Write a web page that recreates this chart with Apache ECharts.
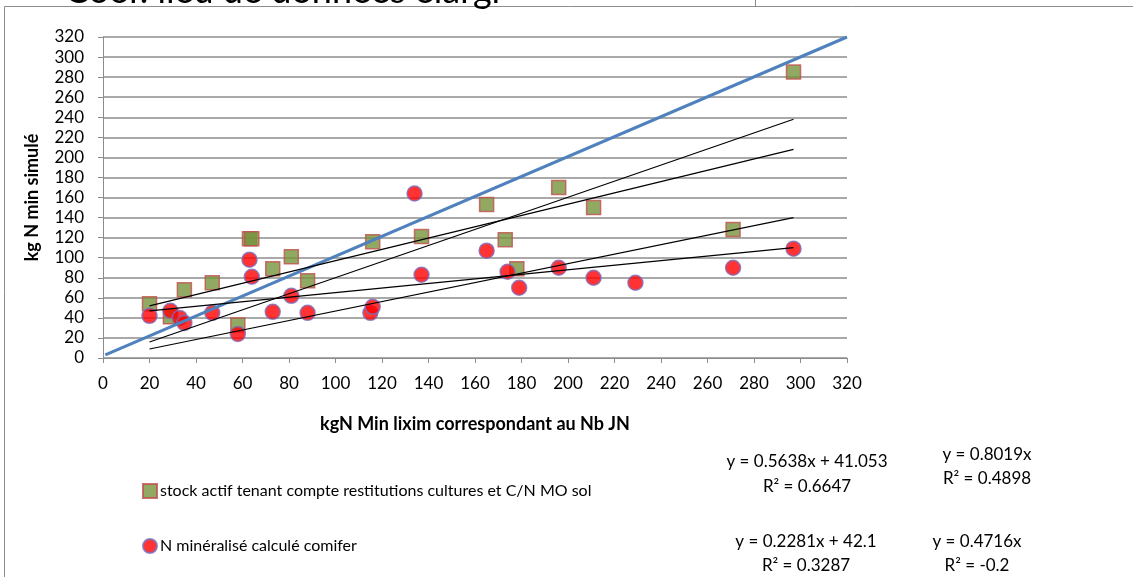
<!DOCTYPE html>
<html>
<head>
    <meta charset="UTF-8">
    <title>kg N min simulé</title>
</head>
<body style="margin:0; background:#fff;">
<div id="main" style="width:1133px; height:577px;"></div>

<script type="text/javascript" src="https://cdn.jsdelivr.net/npm/echarts@6/dist/echarts.min.js"></script>
<script type="text/javascript">

    // points [x, y]
    var stockPoints = [
        [20,54],[29,41],[35,68],[47,75],[58,33],[63,119],[64,119],[73,89],[81,101],[88,77],
        [116,116],[137,121],[165,153],[173,118],[178,89],[196,170],[211,150],[271,128],[297,285]
    ];
    var comiferPoints = [
        [20,42],[29,47],[33,40],[35,35],[47,45],[58,24],[63,98],[64,81],[73,46],[81,62],[88,45],
        [115,45],[116,51],[134,164],[137,83],[165,107],[174,86],[179,70],[196,90],[211,80],
        [229,75],[271,90],[297,109]
    ];

    // courbes de tendance (extrémités lues)
    var trendStockLin  = [[20,52],[297,208]];
    var trendStockOrig = [[20,16],[297,238]];
    var trendComLin    = [[20,47],[297,110]];
    var trendComOrig   = [[20,9],[297,140]];
    var refLine        = [[1,3],[320,320]];

    var seriesNames = ['stock actif tenant compte restitutions cultures et C/N MO sol', 'N minéralisé calculé comifer'];
    var equations = [
        ['y = 0.5638x + 41.053', 'R² = 0.6647'],
        ['y = 0.8019x', 'R² = 0.4898'],
        ['y = 0.2281x + 42.1', 'R² = 0.3287'],
        ['y = 0.4716x', 'R² = -0.2']
    ];

    var FONT = 'Lato';
    var myChart = echarts.init(document.getElementById('main'));

    function trend(data, color, width) {
        return {
            type: 'line', data: data, symbol: 'none', silent: true, z: 5,
            lineStyle: { color: color, width: width }
        };
    }

    // équations : [x centre, y ligne 1, y ligne 2]
    var eqPos = [[807, 462, 487], [987, 455, 479], [806, 542, 566], [977, 542, 566]];
    var graphics = [
        { type: 'text', left: 65, top: -27, style: { text: 'Coef. lieu de données élargi', font: '36px ' + FONT, fill: '#000' } },
        { type: 'rect', shape: { x: 4.5, y: 6.5, width: 1140, height: 600 }, style: { fill: 'none', stroke: '#8c8c8c', lineWidth: 1 }, z: -1 },
        { type: 'line', shape: { x1: 755.5, y1: 0, x2: 755.5, y2: 7 }, style: { stroke: '#8c8c8c', lineWidth: 1 } }
    ];
    equations.forEach(function (eq, i) {
        for (var k = 0; k < 2; k++) {
            graphics.push({
                type: 'text', x: eqPos[i][0], y: eqPos[i][k + 1],
                style: { text: eq[k], font: '17px ' + FONT, fill: '#000', align: 'center', verticalAlign: 'middle' }
            });
        }
    });

    var axisLine = { lineStyle: { color: '#8c8c8c', width: 1 } };

    var option = {
        animation: false,
        textStyle: { fontFamily: FONT },
        grid: { left: 103, right: 286, top: 37, bottom: 219 },
        legend: {
            data: [
                { name: seriesNames[0], icon: 'rect' },
                { name: seriesNames[1], icon: 'circle' }
            ],
            orient: 'vertical', left: 142, top: 483, itemGap: 39, padding: 0,
            itemWidth: 14, itemHeight: 14,
            textStyle: { fontSize: 16, color: '#000', fontFamily: FONT, padding: [0, 0, 0, -2] }
        },
        xAxis: {
            type: 'value', min: 0, max: 320, interval: 20,
            name: 'kgN Min lixim correspondant au Nb JN',
            nameLocation: 'middle', nameGap: 57,
            nameTextStyle: { fontWeight: 'bold', fontSize: 18, color: '#000' },
            axisLine: axisLine,
            axisTick: { show: true, length: 5, lineStyle: { color: '#8c8c8c' } },
            axisLabel: { fontSize: 17, color: '#000', margin: 17 },
            splitLine: { show: false }
        },
        yAxis: {
            type: 'value', min: 0, max: 320, interval: 20,
            name: 'kg N min simulé',
            nameLocation: 'middle', nameGap: 62,
            nameTextStyle: { fontWeight: 'bold', fontSize: 18, color: '#000' },
            axisLine: { show: true, lineStyle: { color: '#8c8c8c', width: 1 } },
            axisTick: { show: true, length: 5, lineStyle: { color: '#8c8c8c' } },
            axisLabel: { fontSize: 17, color: '#000', margin: 19 },
            splitLine: { lineStyle: { color: '#8c8c8c', width: 1.5 } }
        },
        graphic: graphics,
        series: [
            {
                name: seriesNames[0], type: 'scatter', data: stockPoints,
                symbol: 'rect', symbolSize: 14, z: 2,
                itemStyle: { color: '#77933C', borderColor: '#C0504D', borderWidth: 1.5 }
            },
            {
                name: seriesNames[1], type: 'scatter', data: comiferPoints,
                symbol: 'circle', symbolSize: 15, z: 3,
                itemStyle: { color: '#FF0000', borderColor: '#7B6EBE', borderWidth: 1.5 }
            },
            trend(refLine, '#4F81BD', 3),
            trend(trendStockLin, '#000', 1.2),
            trend(trendStockOrig, '#000', 1.2),
            trend(trendComLin, '#000', 1.2),
            trend(trendComOrig, '#000', 1.2)
        ]
    };

    myChart.setOption(option);

</script>
</body>
</html>
